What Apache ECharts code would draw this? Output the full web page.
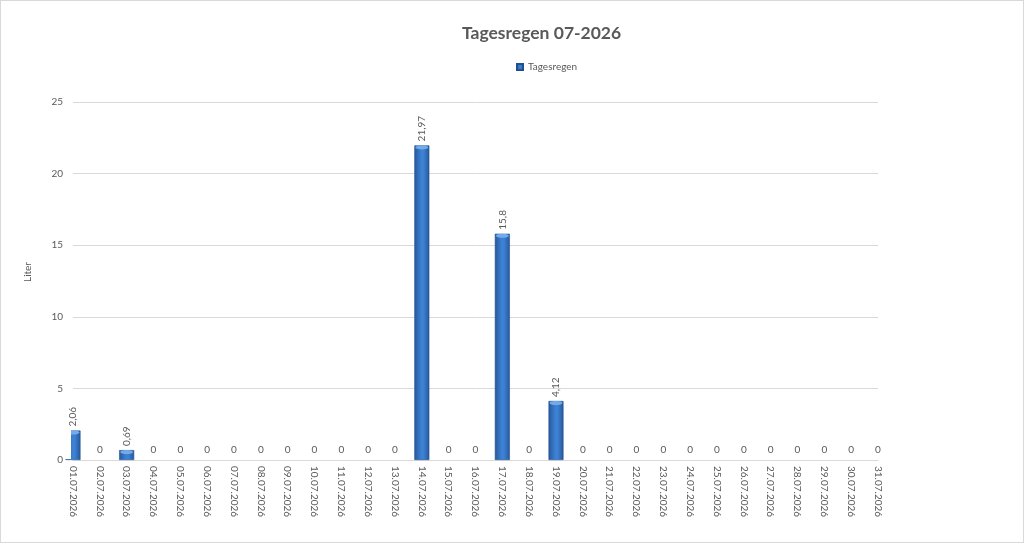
<!DOCTYPE html>
<html>
<head>
<meta charset="utf-8">
<script src="https://cdn.jsdelivr.net/npm/echarts@6/dist/echarts.min.js"></script>
<style>
  html, body { margin: 0; padding: 0; background: #fff; }
  #chart { width: 1022px; height: 541px; border: 1px solid #d9d9d9; }
</style>
</head>
<body>
<div id="chart"></div>
<script>
  // Daily rain, July 2026 (Liter)
  const DAYS = [
    '01.07.2026', '02.07.2026', '03.07.2026', '04.07.2026', '05.07.2026', '06.07.2026',
    '07.07.2026', '08.07.2026', '09.07.2026', '10.07.2026', '11.07.2026', '12.07.2026',
    '13.07.2026', '14.07.2026', '15.07.2026', '16.07.2026', '17.07.2026', '18.07.2026',
    '19.07.2026', '20.07.2026', '21.07.2026', '22.07.2026', '23.07.2026', '24.07.2026',
    '25.07.2026', '26.07.2026', '27.07.2026', '28.07.2026', '29.07.2026', '30.07.2026',
    '31.07.2026'
  ];
  const RAIN = [
    2.06, 0, 0.69, 0, 0, 0, 0, 0, 0, 0, 0, 0, 0, 21.97, 0, 0,
    15.8, 0, 4.12, 0, 0, 0, 0, 0, 0, 0, 0, 0, 0, 0, 0
  ];
  const Y_TICKS = { min: 0, max: 25, interval: 5 };

  const FONT = 'Lato, sans-serif';
  const TEXT = '#595959';
  const GRID = '#d9d9d9';
  const GRID_LEFT = 72;
  const GRID_BOTTOM = 82;
  const BAR_W = 15;

  const fmtDe = (v) => String(v).replace('.', ',');

  // zero values get an upright label and no outline, the others are rotated like in Excel
  const barData = RAIN.map(v => ({
    value: v,
    itemStyle: v === 0 ? { borderWidth: 0 } : undefined,
    label: v === 0
      ? { rotate: 0, align: 'center', verticalAlign: 'bottom', distance: 5 }
      : { rotate: 90, align: 'left', verticalAlign: 'middle', distance: 4 }
  }));

  const chart = echarts.init(document.getElementById('chart'), null, { renderer: 'canvas' });
  chart.setOption({
    animation: false,
    textStyle: { fontFamily: FONT, color: TEXT },
    title: {
      text: 'Tagesregen 07-2026',
      left: 456, top: 18,
      textStyle: { fontFamily: FONT, fontSize: 17.5, fontWeight: 'bold', color: TEXT }
    },
    legend: {
      data: ['Tagesregen'],
      top: 56, left: 510,
      itemWidth: 6, itemHeight: 6, itemGap: 4,
      icon: 'rect',
      textStyle: { fontFamily: FONT, fontSize: 10, color: TEXT }
    },
    grid: { left: GRID_LEFT, right: 145, top: 101, bottom: GRID_BOTTOM, containLabel: false },
    // bars on a boundaryGap:false axis are not clipped by ECharts; mask the outer half of the first one
    graphic: [{
      type: 'rect',
      left: GRID_LEFT - BAR_W / 2 - 1, bottom: GRID_BOTTOM + 1,
      shape: { width: BAR_W / 2 - 1, height: 31 },
      style: { fill: '#fff' },
      z: 50
    }],
    xAxis: {
      type: 'category',
      data: DAYS,
      boundaryGap: false,
      axisLine: { lineStyle: { color: GRID } },
      axisTick: { show: false },
      axisLabel: {
        rotate: -90, interval: 0, margin: 6,
        fontFamily: FONT, fontSize: 10, color: TEXT
      },
      splitLine: { show: false }
    },
    yAxis: {
      type: 'value',
      min: Y_TICKS.min, max: Y_TICKS.max, interval: Y_TICKS.interval,
      name: 'Liter',
      nameLocation: 'middle',
      nameGap: 40,
      nameRotate: 90,
      nameTextStyle: { fontFamily: FONT, fontSize: 10, color: TEXT, padding: [0, 0, 0, 18] },
      axisLine: { show: false },
      axisTick: { show: false },
      axisLabel: { fontFamily: FONT, fontSize: 10, color: TEXT, margin: 10 },
      splitLine: { lineStyle: { color: GRID } }
    },
    series: [
      {
        name: 'Tagesregen',
        type: 'bar',
        barWidth: BAR_W,
        data: barData,
        itemStyle: {
          // cylinder shading: darker edges, lighter middle
          color: new echarts.graphic.LinearGradient(0, 0, 1, 0, [
            { offset: 0, color: '#28579a' },
            { offset: 0.45, color: '#3c80d2' },
            { offset: 0.6, color: '#3d82d4' },
            { offset: 1, color: '#28579a' }
          ]),
          borderColor: '#22508e',
          borderWidth: 0.6
        },
        label: {
          show: true,
          position: 'top',
          fontFamily: FONT, fontSize: 10, color: TEXT,
          formatter: (p) => fmtDe(p.value)
        },
        z: 2
      },
      {
        // light cylinder cap on top of each bar
        name: 'cap',
        type: 'pictorialBar',
        symbol: 'circle',
        symbolSize: [13, 4],
        symbolPosition: 'end',
        data: RAIN.map(v => (v === 0 ? null : v)),
        itemStyle: { color: '#72aaec' },
        silent: true,
        z: 3
      }
    ]
  });
</script>
</body>
</html>
